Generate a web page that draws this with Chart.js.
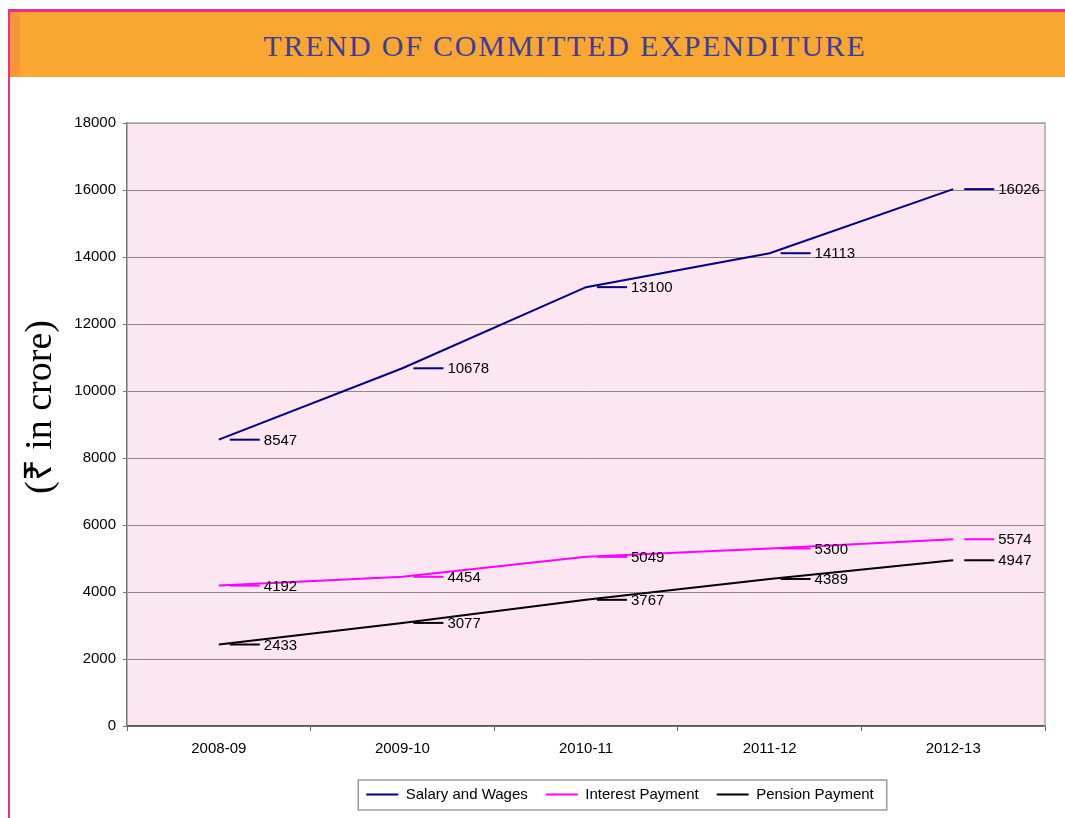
<!DOCTYPE html>
<html>
<head>
<meta charset="utf-8">
<title>Trend of Committed Expenditure</title>
<script src="https://cdn.jsdelivr.net/npm/chart.js@4.4.1/dist/chart.umd.min.js"></script>
<style>
	html, body { margin: 0; padding: 0; background: #fff; overflow: hidden; }
	body { width: 1065px; height: 818px; position: relative; }
	.frame-top { position: absolute; left: 8px; top: 9px; width: 1057px; height: 3px; background: #ec2d8b; }
	.frame-left { position: absolute; left: 8px; top: 9px; width: 2px; height: 809px; background: #ec2d8b; }
	.band { position: absolute; left: 10px; top: 12px; width: 1055px; height: 65px; background: #f9a731; }
	.band-edge { position: absolute; left: 10px; top: 12px; width: 10px; height: 65px; background: #f7953a; }
	.title {
		position: absolute; left: 565px; top: 30px; transform: translateX(-50%);
		font: 30px 'Liberation Serif', serif; line-height: 32px; color: #3d3d9e;
		white-space: nowrap; letter-spacing: 1.8px;
	}
	.chart-box { position: absolute; left: 10px; top: 76px; width: 1055px; height: 742px; }
</style>
</head>
<body>
<div class="frame-top"></div>
<div class="frame-left"></div>
<div class="band"></div>
<div class="band-edge"></div>
<div class="title">TREND OF COMMITTED EXPENDITURE</div>
<div class="chart-box"><canvas id="expenditureChart"></canvas></div>

<script>
	const years = ['2008-09', '2009-10', '2010-11', '2011-12', '2012-13'];
	const salaryWages = [8547, 10678, 13100, 14113, 16026];
	const interestPayment = [4192, 4454, 5049, 5300, 5574];
	const pensionPayment = [2433, 3077, 3767, 4389, 4947];
	const yTicks = [0, 2000, 4000, 6000, 8000, 10000, 12000, 14000, 16000, 18000];
	const yTitle = '(\u20B9 in crore)';

	const tickFont = { family: "'Liberation Sans', Arial, sans-serif", size: 15 };

	// pink plot background plus the light top/right frame
	const plotFrame = {
		id: 'plotFrame',
		beforeDatasetsDraw(chart) {
			const { ctx, chartArea: a } = chart;
			ctx.save();
			ctx.strokeStyle = '#a6a6a6';
			ctx.lineWidth = 1.5;
			ctx.beginPath();
			ctx.moveTo(a.left, a.top);
			ctx.lineTo(a.right, a.top);
			ctx.lineTo(a.right, a.bottom);
			ctx.stroke();
			ctx.restore();
		},
		beforeDraw(chart) {
			const { ctx, chartArea: a } = chart;
			ctx.save();
			ctx.fillStyle = '#fce6f2';
			ctx.fillRect(a.left, a.top, a.right - a.left, a.bottom - a.top);
			ctx.restore();
		}
	};

	// value labels with a short leader line to the right of each point
	const valueLabels = {
		id: 'valueLabels',
		afterDatasetsDraw(chart) {
			const ctx = chart.ctx;
			ctx.save();
			ctx.font = "15px 'Liberation Sans', Arial, sans-serif";
			ctx.textBaseline = 'middle';
			ctx.textAlign = 'left';
			chart.data.datasets.forEach((ds, i) => {
				const meta = chart.getDatasetMeta(i);
				meta.data.forEach((pt, j) => {
					ctx.strokeStyle = ds.borderColor;
					ctx.lineWidth = 2;
					ctx.beginPath();
					ctx.moveTo(pt.x + 11, pt.y);
					ctx.lineTo(pt.x + 41, pt.y);
					ctx.stroke();
					ctx.fillStyle = '#000';
					ctx.fillText(String(ds.data[j]), pt.x + 45, pt.y + 1);
				});
			});
			ctx.restore();
		}
	};

	// rotated y title, legend shift and legend frame
	const extras = {
		id: 'extras',
		afterLayout(chart) {
			const lg = chart.legend;
			if (!lg) return;
			const dx = 610 - (lg.left + lg.right) / 2;
			lg.left += dx;
			lg.right += dx;
		},
		afterDraw(chart) {
			const ctx = chart.ctx;
			ctx.save();
			ctx.translate(31, 331);
			ctx.rotate(-Math.PI / 2);
			ctx.font = "38px 'Liberation Serif', serif";
			ctx.fillStyle = '#000';
			ctx.textAlign = 'center';
			ctx.textBaseline = 'middle';
			ctx.fillText(yTitle, 0, 0);
			ctx.restore();

			const hb = chart.legend && chart.legend.legendHitBoxes;
			if (!hb || !hb.length) return;
			const last = hb[hb.length - 1];
			const x0 = hb[0].left - 8;
			const x1 = last.left + last.width + 13;
			const y0 = hb[0].top - 7;
			const y1 = hb[0].top + hb[0].height + 8;
			ctx.save();
			ctx.strokeStyle = '#9a9a9a';
			ctx.lineWidth = 1.5;
			ctx.strokeRect(x0, y0, x1 - x0, y1 - y0);
			ctx.restore();
		}
	};

	new Chart(document.getElementById('expenditureChart'), {
		type: 'line',
		data: {
			labels: years,
			datasets: [
				{ label: 'Salary and Wages', data: salaryWages, borderColor: '#000080', backgroundColor: '#000080' },
				{ label: 'Interest Payment', data: interestPayment, borderColor: '#ff00ff', backgroundColor: '#ff00ff' },
				{ label: 'Pension Payment', data: pensionPayment, borderColor: '#000000', backgroundColor: '#000000' }
			]
		},
		options: {
			responsive: true,
			maintainAspectRatio: false,
			animation: false,
			elements: {
				line: { borderWidth: 2, tension: 0 },
				point: { radius: 0, hoverRadius: 0 }
			},
			layout: { padding: { top: 47, right: 20, bottom: 6, left: 10 } },
			scales: {
				x: {
					offset: true,
					grid: { offset: true, drawOnChartArea: false, tickLength: 5, color: '#666' },
					border: { color: '#555', width: 1.5 },
					ticks: { color: '#000', font: tickFont, padding: 9, maxRotation: 0 },
					afterFit: s => { s.height = 43; }
				},
				y: {
					min: 0,
					max: 18000,
					afterBuildTicks: s => { s.ticks = yTicks.map(v => ({ value: v })); },
					grid: { color: '#8a8a8a', tickLength: 4, tickColor: '#777' },
					border: { color: '#777', width: 1.5 },
					ticks: { color: '#000', font: tickFont, padding: 7, callback: v => String(v) },
					afterFit: s => { s.width = 107; }
				}
			},
			plugins: {
				tooltip: { enabled: false },
				legend: {
					position: 'bottom',
					labels: {
						color: '#000',
						font: tickFont,
						boxWidth: 32,
						boxHeight: 2,
						padding: 18,
						generateLabels: chart => Chart.defaults.plugins.legend.labels.generateLabels(chart)
							.map(item => Object.assign(item, { lineWidth: 0 }))
					}
				}
			}
		},
		plugins: [plotFrame, valueLabels, extras]
	});
</script>
</body>
</html>
